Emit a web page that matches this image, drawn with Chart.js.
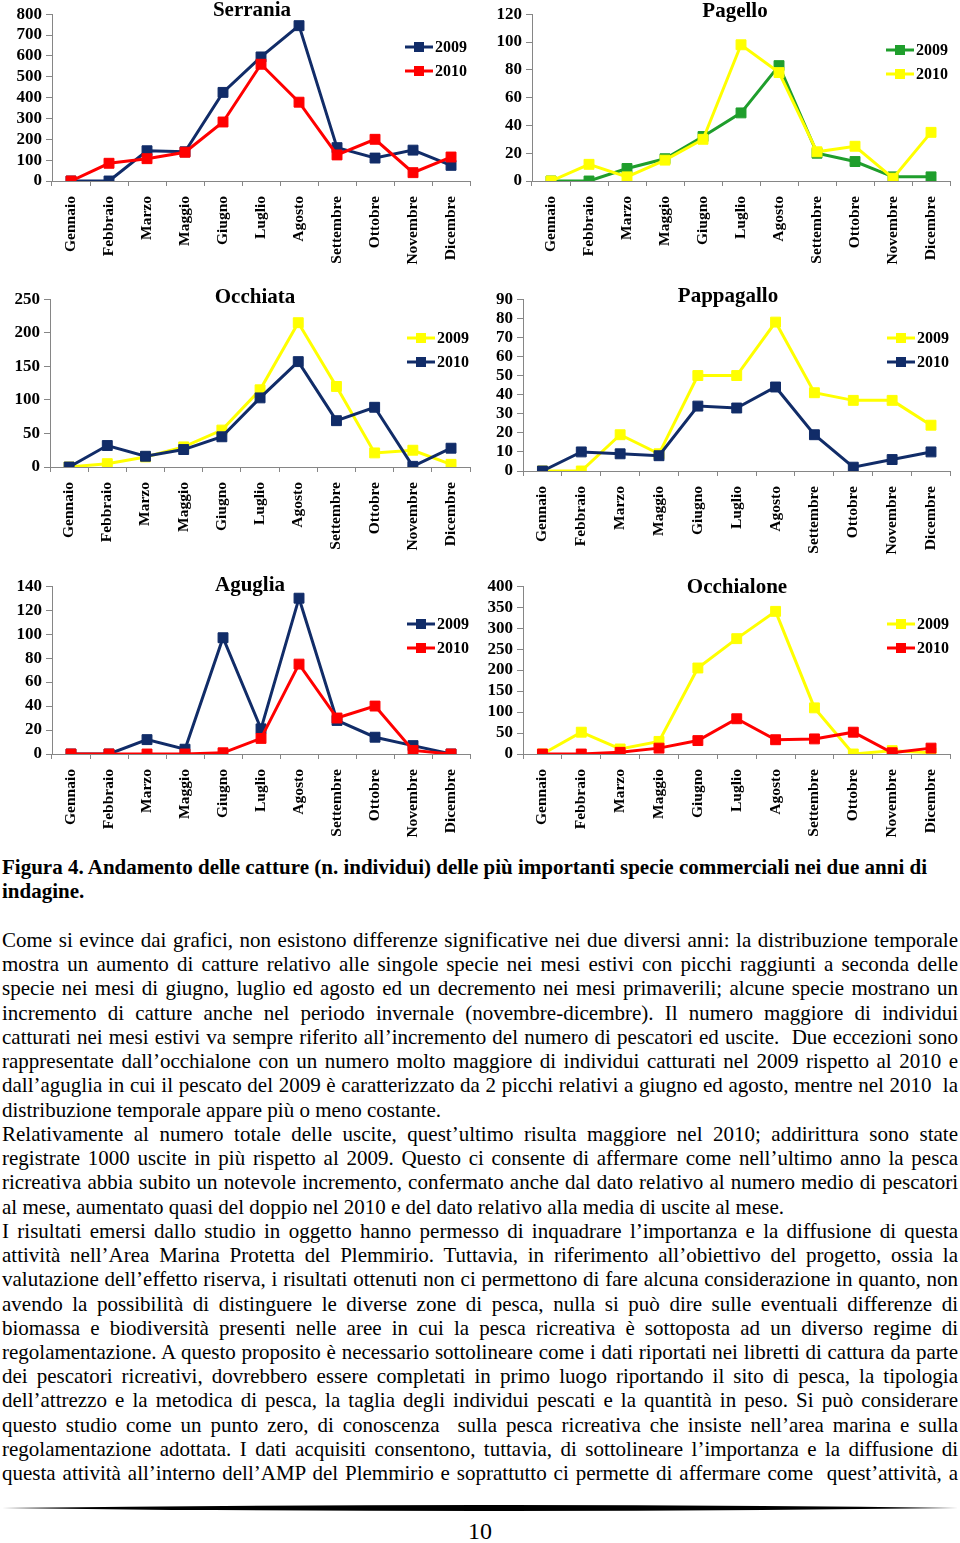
<!DOCTYPE html>
<html>
<head>
<meta charset="utf-8">
<script src="https://cdn.jsdelivr.net/npm/chart.js@4.4.1/dist/chart.umd.min.js"></script>
<style>
  body { margin: 0; background: #fff; width: 960px; height: 1543px; position: relative; overflow: hidden; }
  .box { position: absolute; width: 480px; height: 280px; }
  .txt { position: absolute; left: 2px; width: 956px; font-family: "Liberation Serif", "Times New Roman", serif; font-size: 21px; line-height: 24.23px; color: #000; }
  .txt div { white-space: nowrap; }
  .txt .j { text-align: justify; text-align-last: justify; white-space: normal; }
  #caption { top: 855px; font-weight: bold; }
  #body { top: 928px; }
  #pageno { position: absolute; top: 1518px; left: 0; width: 960px; text-align: center; font-family: "Liberation Serif", serif; font-size: 24px; }
  #rule { position: absolute; left: 2px; top: 1503px; }
</style>
</head>
<body>
<div class="box" style="left:0;top:0"><canvas id="c1"></canvas></div>
<div class="box" style="left:480px;top:0"><canvas id="c2"></canvas></div>
<div class="box" style="left:0;top:285px"><canvas id="c3"></canvas></div>
<div class="box" style="left:480px;top:285px"><canvas id="c4"></canvas></div>
<div class="box" style="left:0;top:572px"><canvas id="c5"></canvas></div>
<div class="box" style="left:480px;top:572px"><canvas id="c6"></canvas></div>

<div class="txt" id="caption">
  <div>Figura 4. Andamento delle catture (n. individui) delle più importanti specie commerciali nei due anni di</div>
  <div>indagine.</div>
</div>

<div class="txt" id="body">
  <div class="j">Come si evince dai grafici, non esistono differenze significative nei due diversi anni: la distribuzione temporale</div>
  <div class="j">mostra un aumento di catture relativo alle singole specie nei mesi estivi con picchi raggiunti a seconda delle</div>
  <div class="j">specie nei mesi di giugno, luglio ed agosto ed un decremento nei mesi primaverili; alcune specie mostrano un</div>
  <div class="j">incremento di catture anche nel periodo invernale (novembre-dicembre). Il numero maggiore di individui</div>
  <div class="j">catturati nei mesi estivi va sempre riferito all’incremento del numero di pescatori ed uscite.&nbsp; Due eccezioni sono</div>
  <div class="j">rappresentate dall’occhialone con un numero molto maggiore di individui catturati nel 2009 rispetto al 2010 e</div>
  <div class="j">dall’aguglia in cui il pescato del 2009 è caratterizzato da 2 picchi relativi a giugno ed agosto, mentre nel 2010&nbsp; la</div>
  <div>distribuzione temporale appare più o meno costante.</div>
  <div class="j">Relativamente al numero totale delle uscite, quest’ultimo risulta maggiore nel 2010; addirittura sono state</div>
  <div class="j">registrate 1000 uscite in più rispetto al 2009. Questo ci consente di affermare come nell’ultimo anno la pesca</div>
  <div class="j">ricreativa abbia subito un notevole incremento, confermato anche dal dato relativo al numero medio di pescatori</div>
  <div>al mese, aumentato quasi del doppio nel 2010 e del dato relativo alla media di uscite al mese.</div>
  <div class="j">I risultati emersi dallo studio in oggetto hanno permesso di inquadrare l’importanza e la diffusione di questa</div>
  <div class="j">attività nell’Area Marina Protetta del Plemmirio. Tuttavia, in riferimento all’obiettivo del progetto, ossia la</div>
  <div class="j">valutazione dell’effetto riserva, i risultati ottenuti non ci permettono di fare alcuna considerazione in quanto, non</div>
  <div class="j">avendo la possibilità di distinguere le diverse zone di pesca, nulla si può dire sulle eventuali differenze di</div>
  <div class="j">biomassa e biodiversità presenti nelle aree in cui la pesca ricreativa è sottoposta ad un diverso regime di</div>
  <div class="j">regolamentazione. A questo proposito è necessario sottolineare come i dati riportati nei libretti di cattura da parte</div>
  <div class="j">dei pescatori ricreativi, dovrebbero essere completati in primo luogo riportando il sito di pesca, la tipologia</div>
  <div class="j">dell’attrezzo e la metodica di pesca, la taglia degli individui pescati e la quantità in peso. Si può considerare</div>
  <div class="j">questo studio come un punto zero, di conoscenza&nbsp; sulla pesca ricreativa che insiste nell’area marina e sulla</div>
  <div class="j">regolamentazione adottata. I dati acquisiti consentono, tuttavia, di sottolineare l’importanza e la diffusione di</div>
  <div class="j">questa attività all’interno dell’AMP del Plemmirio e soprattutto ci permette di affermare come&nbsp; quest’attività, a</div>
</div>

<svg id="rule" width="956" height="10"><path d="M0 5 Q478 -1 956 5 Q478 11 0 5 Z" fill="#000"/></svg>
<div id="pageno">10</div>

<script>
// months on the x axis (Aprile is missing in the source)
const months = ['Gennaio', 'Febbraio', 'Marzo', 'Maggio', 'Giugno', 'Luglio', 'Agosto', 'Settembre', 'Ottobre', 'Novembre', 'Dicembre'];

const serrania2009 = [0, 0, 145, 140, 425, 595, 745, 160, 110, 148, 75];
const serrania2010 = [0, 85, 107, 138, 283, 560, 378, 125, 200, 40, 115];

const pagello2009 = [0, 0, 9, 16, 32, 49, 83, 20, 14, 3, 3];
const pagello2010 = [0, 12, 3, 15, 30, 98, 78, 21, 25, 2, 35];

const occhiata2009 = [0, 5, 15, 30, 55, 115, 215, 120, 21, 25, 4];
const occhiata2010 = [0, 32, 16, 26, 45, 103, 157, 69, 89, 1, 28];

const pappagallo2009 = [0, 0, 19, 9, 50, 50, 78, 41, 37, 37, 24];
const pappagallo2010 = [0, 10, 9, 8, 34, 33, 44, 19, 2, 6, 10];

const aguglia2009 = [0, 0, 12, 4, 97, 21, 130, 28, 14, 7, 0];
const aguglia2010 = [0, 0, 0, 0, 1, 13, 75, 30, 40, 3, 0];

const occhialone2009 = [0, 52, 12, 30, 205, 275, 340, 110, 0, 8, 3];
const occhialone2010 = [0, 0, 4, 14, 32, 84, 34, 36, 52, 3, 14];

const NAVY = '#112C68';
const RED = '#FF0000';
const GREEN = '#1F9E2C';
const YELLOW = '#FFFF00';

const FONT = '"Liberation Serif", "Times New Roman", serif';
const H = 280;

// title + excel-like legend (line with square marker) drawn over the plot
const decor = {
  id: 'decor',
  afterDraw(chart, args, o) {
    const ctx = chart.ctx;
    ctx.save();
    ctx.fillStyle = '#000';
    ctx.font = 'bold 21px ' + FONT;
    ctx.textAlign = 'center';
    ctx.textBaseline = 'middle';
    ctx.fillText(o.title, o.titleX, o.titleY);
    ctx.font = 'bold 16px ' + FONT;
    ctx.textAlign = 'left';
    chart.data.datasets.forEach((ds, i) => {
      const y = o.legY + i * 24;
      const x = o.legX;
      ctx.strokeStyle = ds.borderColor;
      ctx.lineWidth = 3;
      ctx.beginPath();
      ctx.moveTo(x, y);
      ctx.lineTo(x + 28, y);
      ctx.stroke();
      ctx.fillStyle = ds.borderColor;
      ctx.fillRect(x + 9, y - 5, 10, 10);
      ctx.fillStyle = '#000';
      ctx.fillText(ds.label, x + 30, y + 1);
    });
    ctx.restore();
  }
};

function series(label, data, color, order) {
  return {
    label, data, order,
    borderColor: color,
    backgroundColor: color,
    borderWidth: 3,
    pointStyle: 'rect',
    pointRadius: 7,
    pointBorderWidth: 1,
    tension: 0
  };
}

function makeChart(id, title, s1, s2, yMax, step, g) {
  new Chart(document.getElementById(id), {
    type: 'line',
    data: { labels: months, datasets: [s1, s2] },
    plugins: [decor],
    options: {
      responsive: true,
      maintainAspectRatio: false,
      animation: false,
      devicePixelRatio: 1,
      layout: { padding: { left: 0, top: g.top, right: 480 - g.right, bottom: 0 } },
      plugins: {
        legend: { display: false },
        tooltip: { enabled: false },
        decor: { title, titleX: g.tx, titleY: g.ty, legX: g.lx, legY: g.ly }
      },
      scales: {
        x: {
          offset: true,
          grid: { offset: true, drawOnChartArea: false, drawTicks: true, tickLength: 5, color: '#868686' },
          border: { color: '#868686', width: 1 },
          ticks: { autoSkip: false, maxRotation: 90, minRotation: 90, padding: 10, color: '#000', font: { family: FONT, size: 15.5, weight: 'bold' } },
          afterFit: s => { s.height = H - g.zero; }
        },
        y: {
          min: 0, max: yMax,
          grid: { drawOnChartArea: false, drawTicks: true, tickLength: 6, color: '#868686' },
          border: { color: '#868686', width: 1 },
          ticks: { stepSize: step, autoSkip: false, padding: 4, color: '#000', font: { family: FONT, size: 17, weight: 'bold' } },
          afterFit: s => { s.width = g.axis; }
        }
      }
    }
  });
}

makeChart('c1', 'Serrania',
  series('2009', serrania2009, NAVY, 1), series('2010', serrania2010, RED, 0),
  800, 100, { axis: 52, top: 10, zero: 181, right: 473, tx: 252, ty: 11, lx: 405, ly: 47 });

makeChart('c2', 'Pagello',
  series('2009', pagello2009, GREEN, 1), series('2010', pagello2010, YELLOW, 0),
  120, 20, { axis: 52, top: 10, zero: 181, right: 473, tx: 255, ty: 12, lx: 406, ly: 50 });

makeChart('c3', 'Occhiata',
  series('2009', occhiata2009, YELLOW, 1), series('2010', occhiata2010, NAVY, 0),
  250, 50, { axis: 50, top: 11, zero: 182, right: 473, tx: 255, ty: 13, lx: 407, ly: 53 });

makeChart('c4', 'Pappagallo',
  series('2009', pappagallo2009, YELLOW, 1), series('2010', pappagallo2010, NAVY, 0),
  90, 10, { axis: 43, top: 13, zero: 186, right: 471, tx: 248, ty: 12, lx: 407, ly: 53 });

makeChart('c5', 'Aguglia',
  series('2009', aguglia2009, NAVY, 1), series('2010', aguglia2010, RED, 0),
  140, 20, { axis: 52, top: 12, zero: 182, right: 475, tx: 250, ty: 14, lx: 407, ly: 52 });

makeChart('c6', 'Occhialone',
  series('2009', occhialone2009, YELLOW, 1), series('2010', occhialone2010, RED, 0),
  400, 50, { axis: 43, top: 12, zero: 182, right: 473, tx: 257, ty: 16, lx: 407, ly: 52 });
</script>
</body>
</html>
